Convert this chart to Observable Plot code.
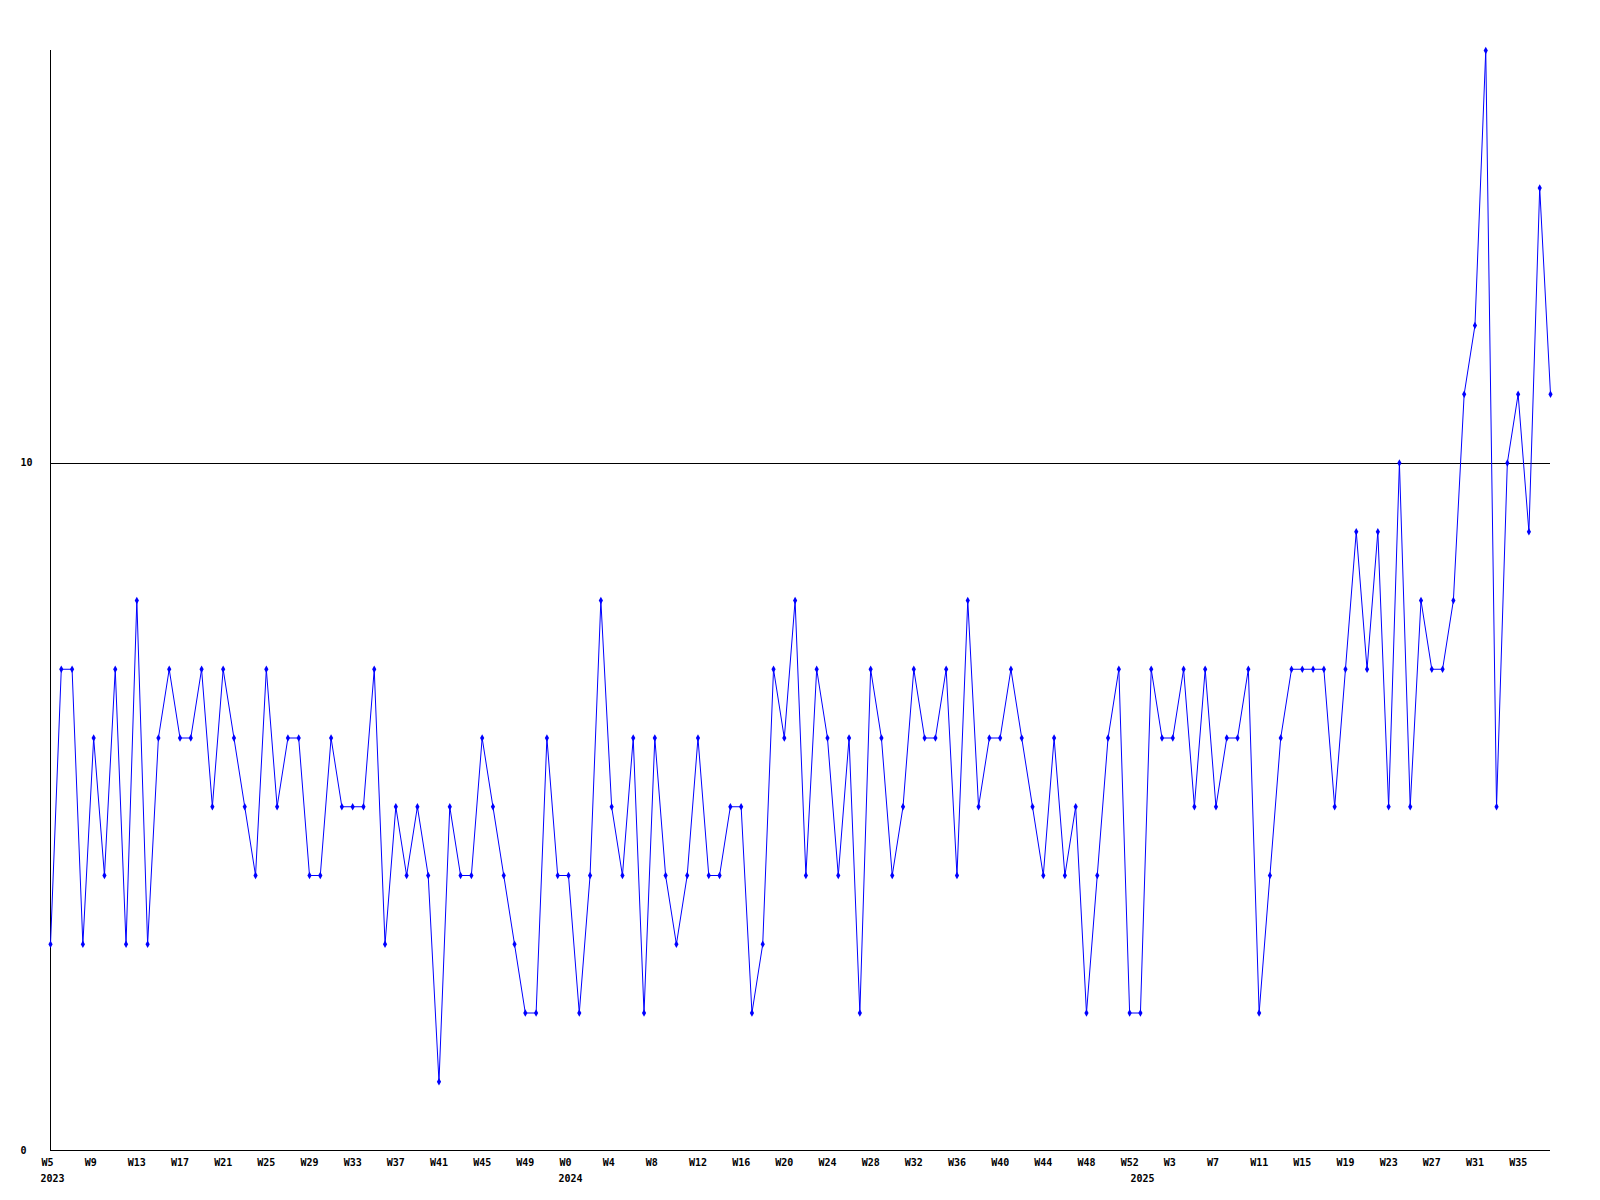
<!DOCTYPE html>
<html>
<head>
<meta charset="utf-8">
<script src="https://cdn.jsdelivr.net/npm/d3@7"></script>
<script src="https://cdn.jsdelivr.net/npm/@observablehq/plot@0.6"></script>
<style>
  html, body { margin: 0; padding: 0; background: #fff; }
  #chart { width: 1600px; height: 1200px; }
  #chart svg g[aria-label="rule"] line { shape-rendering: crispEdges; }
</style>
</head>
<body>
<div id="chart"></div>
<script>
// Weekly buckets: [year, first week, last week]
const yearWeekRanges = [[2023, 5, 52], [2024, 0, 52], [2025, 0, 38]];

// Weekly counts (one per bucket)
const counts = [
  3,7,7,3,6,4,7,3,8,3,6,7,6,6,7,5,7,6,5,4,7,5,6,6,4,
  4,6,5,5,5,7,3,5,4,5,4,1,5,4,4,6,5,4,3,2,2,6,4,
  4,2,4,8,5,4,6,2,6,4,3,4,6,4,4,5,5,2,3,7,6,8,4,
  7,6,4,6,2,7,6,4,5,7,6,6,7,4,8,5,6,6,7,6,5,4,6,
  4,5,2,4,6,7,2,2,7,6,6,7,5,7,5,6,6,7,2,4,6,7,7,
  7,7,5,7,9,7,9,5,10,5,8,7,7,8,11,12,16,5,10,11,9,14,11
];

// X tick labels (every fourth bucket)
const xTickLabels = [
  "W5","W9","W13","W17","W21","W25","W29","W33","W37","W41","W45","W49",
  "W0","W4","W8","W12","W16","W20","W24","W28","W32","W36","W40","W44","W48","W52",
  "W3","W7","W11","W15","W19","W23","W27","W31","W35"
];
const yearLabels = ["2023", "2024", "2025"];
const yTicks = [0, 10];

// Build bucket list (categories)
const periods = [];
for (const [yr, w0, w1] of yearWeekRanges) {
  for (let w = w0; w <= w1; w++) periods.push({year: yr, week: w});
}
const data = counts.map((v, i) => ({i, v, year: periods[i].year, week: periods[i].week}));
const tickIdx = xTickLabels.map((_, k) => k * 4);
const yearData = yearLabels.map(label => ({label, i: periods.findIndex(p => String(p.year) === label)}));

const chart = Plot.plot({
  width: 1600,
  height: 1200,
  marginLeft: 50,
  marginRight: 50,
  marginTop: 50,
  marginBottom: 50,
  style: {
    fontFamily: "'DejaVu Sans Mono', 'Liberation Mono', monospace",
    fontSize: "10px",
    fontWeight: "bold",
    background: "#ffffff",
    color: "#000000"
  },
  x: {domain: [0, counts.length - 1], axis: null, label: null},
  y: {domain: [0, 16], axis: null, label: null},
  marks: [
    Plot.ruleY([10], {stroke: "#000000", strokeWidth: 1}),
    Plot.ruleX([0], {stroke: "#000000", strokeWidth: 1}),
    Plot.ruleY([0], {stroke: "#000000", strokeWidth: 1}),
    Plot.lineY(data, {x: "i", y: "v", stroke: "#0000ff", strokeWidth: 1}),
    Plot.dot(data, {x: "i", y: "v", symbol: "diamond", r: 2.2, fill: "#0000ff", stroke: "none"}),
    Plot.axisX({
      ticks: tickIdx,
      tickFormat: d => xTickLabels[tickIdx.indexOf(d)],
      tickSize: 0,
      tickPadding: 8,
      textAnchor: "start",
      dx: -9,
      label: null,
      fill: "#000000"
    }),
    Plot.axisY({
      ticks: yTicks,
      tickFormat: d => String(d),
      tickSize: 0,
      tickPadding: 30,
      textAnchor: "start",
      label: null,
      fill: "#000000"
    }),
    Plot.text(yearData, {
      x: "i",
      text: "label",
      frameAnchor: "bottom",
      lineAnchor: "top",
      dy: 24,
      dx: 2,
      textAnchor: "middle",
      fill: "#000000"
    })
  ]
});
document.getElementById("chart").appendChild(chart);
</script>
</body>
</html>
